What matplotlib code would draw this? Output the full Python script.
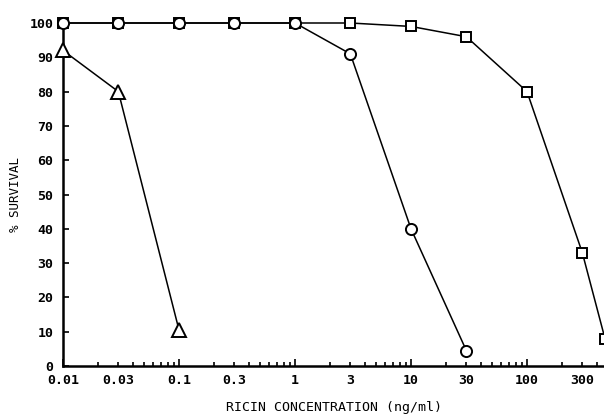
import matplotlib.pyplot as plt
import numpy as np
from matplotlib.ticker import LogLocator, FuncFormatter, FixedLocator

# data
tri_x = [0.01, 0.03, 0.1]
tri_y = [92, 80, 10.5]

circ_x = [0.01, 0.03, 0.1, 0.3, 1, 3, 10, 30]
circ_y = [100, 100, 100, 100, 100, 91, 40, 4.5]

sq_x = [0.01, 0.03, 0.1, 0.3, 1, 3, 10, 30, 100, 300, 470]
sq_y = [100, 100, 100, 100, 100, 100, 99, 96, 80, 33, 8]

y_ticks = list(range(0, 101, 10))

FONT = 'DejaVu Sans Mono'

W, H = 604, 417
fig = plt.figure(figsize=(W / 100, H / 100), dpi=100)
# left spine at x=63, 0 at y=366, 100 at y=23, decade = 116 px
left, bottom, top = 63, 366, 23
right = W
ax = fig.add_axes([left / W, (H - bottom) / H, (right - left) / W, (bottom - top) / H])

kw = dict(color='black', lw=1.1, mfc='white', mec='black', mew=1.4, clip_on=False, zorder=3)
ax.plot(sq_x, sq_y, marker='s', ms=7.5, **kw)
ax.plot(circ_x, circ_y, marker='o', ms=8, **kw)
ax.plot(tri_x, tri_y, marker='^', ms=9.5, **kw)

ax.set_xscale('log')
ax.set_xlim(0.01, 0.01 * 10 ** ((right - left) / 116))
ax.set_ylim(0, 100)

for s in ['top', 'right']:
    ax.spines[s].set_visible(False)
for s in ['left', 'bottom']:
    ax.spines[s].set_linewidth(1.8)

ax.xaxis.set_major_locator(LogLocator(base=10))
ax.xaxis.set_minor_locator(LogLocator(base=10, subs=np.arange(2, 10)))


def major_fmt(v, pos):
    return '%g' % v


def minor_fmt(v, pos):
    m = v / 10 ** np.floor(np.log10(v) + 1e-9)
    if abs(m - 3) < 0.01:
        return '%g' % v
    return ''


ax.xaxis.set_major_formatter(FuncFormatter(major_fmt))
ax.xaxis.set_minor_formatter(FuncFormatter(minor_fmt))
ax.yaxis.set_major_locator(FixedLocator(y_ticks))

ax.tick_params(axis='x', which='major', direction='in', length=5, width=1.2, pad=6)
ax.tick_params(axis='x', which='minor', direction='in', length=3, width=1.2, pad=6)
ax.tick_params(axis='y', which='major', direction='in', length=4, width=1.2, pad=7)

for lab in ax.get_xticklabels(which='both') + ax.get_yticklabels():
    lab.set_fontfamily(FONT)
    lab.set_fontweight('bold')
    lab.set_fontsize(9.5)

ax.set_xlabel('RICIN CONCENTRATION (ng/ml)', fontfamily=FONT, fontsize=9.5, labelpad=10)
ax.set_ylabel('% SURVIVAL', fontfamily=FONT, fontsize=9, labelpad=5)

fig.savefig('out.png', dpi=100)
